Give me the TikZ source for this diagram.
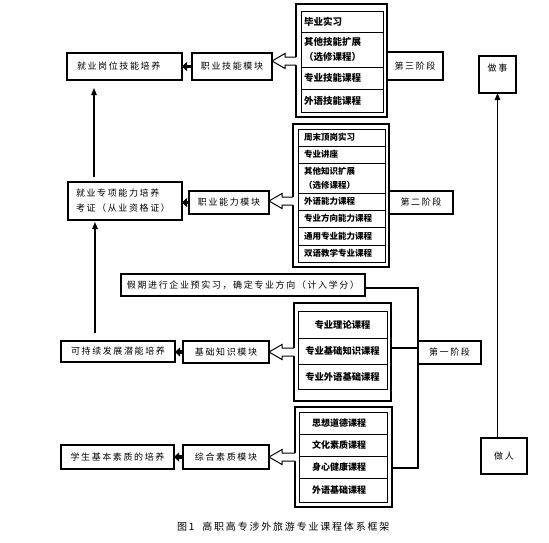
\documentclass[tikz,border=0pt]{standalone}
\usepackage{fontspec}
\setmainfont{Noto Sans CJK SC}
\newfontfamily\cjkw[LetterSpace=18]{Noto Sans CJK SC}
\usetikzlibrary{arrows.meta,calc}
\newcommand\bx[7]{%
  \pgfmathsetmacro\bw{#4-#2}\pgfmathsetmacro\bh{#5-#3}%
  \node[#6, anchor=north west, minimum width=\bw pt, minimum height=\bh pt] (#1) at (#2,#3) {#7};}
\newcommand\bxl[8]{%
  \pgfmathsetmacro\bw{#4-#2}\pgfmathsetmacro\bh{#5-#3}\pgfmathsetmacro\tw{#4-#2-2*#7}%
  \node[#6, anchor=north west, minimum width=\bw pt, minimum height=\bh pt, text width=\tw pt, align=left] (#1) at (#2,#3) {#8};}
\newcommand\hollow[2]{%
  \fill[white] (#1) -- ++(13,-7.5) -- ++(0,3.5) -- ($(#1 -| #2.west)+(1.2,-4)$) -- ($(#1 -| #2.west)+(1.2,4)$) -- ($(#1)+(13,4)$) -- ++(0,3.5) -- cycle;
  \draw[hol] ($(#1 -| #2.west)+(0,-4)$) -- ($(#1)+(13,-4)$) -- ++(0,-3.5) -- (#1) -- ++(13,7.5) -- ++(0,-3.5) -- ($(#1 -| #2.west)+(0,4)$);}
\begin{document}
\begin{tikzpicture}[x=1pt,y=-1pt,
  every node/.style={inner sep=0pt, outer sep=0pt},
  box/.style={draw, line width=1.1pt, font=\cjkw\fontsize{9}{15}\selectfont},
  gbox/.style={draw, line width=1.1pt},
  rowA/.style={draw, line width=1pt, font=\bfseries\fontsize{9.5}{15}\selectfont},
  rowB/.style={draw, line width=1pt, font=\bfseries\fontsize{8.5}{14}\selectfont},
  rowC/.style={draw, line width=1pt, font=\bfseries\fontsize{9.3}{12}\selectfont},
  rowD/.style={draw, line width=1pt, font=\bfseries\fontsize{9}{12}\selectfont},
  fat/.style={line width=3.5pt, -{Triangle[length=5pt,width=9pt]}},
  thin/.style={line width=1.1pt, -{Triangle[length=7pt,width=5.5pt]}},
  conn/.style={line width=1.1pt},
  hol/.style={line width=1pt, line join=miter}]
\fill[white] (0,0) rectangle (549,542);
\useasboundingbox (0,0) rectangle (549,542);

% outcome boxes
\bxl{L1}{67}{53}{182}{80}{box}{10}{就业岗位技能培养}
\bxl{L2}{68}{182}{182}{220}{box}{8}{就业专项能力培养\\考证（从业资格证）}
\bx{L3}{61}{341}{175}{362}{box}{可持续发展潜能培养}
\bx{L4}{61}{445}{174}{469}{box}{学生基本素质的培养}

% modules
\bx{M1}{192}{53}{272}{80}{box}{职业技能模块}
\bx{M2}{189}{191}{269}{214}{box}{职业能力模块}
\bx{M3}{183}{341}{269}{363}{box}{基础知识模块}
\bx{M4}{183}{445}{269}{469}{box}{综合素质模块}

\draw[fat] (M1.west) -- (L1.east);
\draw[fat] (M2.west) -- (M2.west -| L2.east);
\draw[fat] (M3.west) -- (M3.west -| L3.east);
\draw[fat] (M4.west) -- (L4.east);

% group 1
\bx{G1}{296}{4}{387}{117}{gbox}{}
\bxl{a1}{301}{11}{383}{32}{rowA}{3}{毕业实习}
\bxl{a2}{301}{32}{383}{67}{rowA}{3}{其他技能扩展\\（选修课程）}
\bxl{a3}{301}{67}{383}{89}{rowA}{3}{专业技能课程}
\bxl{a4}{301}{89}{383}{112}{rowA}{3}{外语技能课程}

% group 2
\bx{G2}{293}{124}{389}{267}{gbox}{}
\bxl{b1}{298}{129}{385}{146}{rowB}{6}{周末顶岗实习}
\bxl{b2}{298}{146}{385}{163}{rowB}{6}{专业讲座}
\bxl{b3}{298}{163}{385}{193}{rowB}{6}{其他知识扩展\\（选修课程）}
\bxl{b4}{298}{193}{385}{210}{rowB}{6}{外语能力课程}
\bxl{b5}{298}{210}{385}{227}{rowB}{6}{专业方向能力课程}
\bxl{b6}{298}{227}{385}{245}{rowB}{6}{通用专业能力课程}
\bxl{b7}{298}{245}{385}{262}{rowB}{6}{双语教学专业课程}

% group 3
\bx{G3}{294}{303}{391}{401}{gbox}{}
\bx{c1}{298}{311}{387}{338}{rowC}{专业理论课程}
\bx{c2}{298}{338}{387}{364}{rowC}{专业基础知识课程}
\bx{c3}{298}{364}{387}{389}{rowC}{专业外语基础课程}

% group 4
\bx{G4}{295}{407}{392}{507}{gbox}{}
\bxl{d1}{299}{412}{387}{434}{rowD}{13}{思想道德课程}
\bxl{d2}{299}{434}{387}{456}{rowD}{13}{文化素质课程}
\bxl{d3}{299}{456}{387}{478}{rowD}{13}{身心健康课程}
\bxl{d4}{299}{478}{387}{502}{rowD}{13}{外语基础课程}

% hollow arrows
\coordinate (t1) at ($(M1.east)+(0,-5.5)$);
\coordinate (t2) at ($(M2.east)+(0,-1.5)$);
\coordinate (t3) at (M3.east);
\coordinate (t4) at (M4.east);
\hollow{t1}{G1}
\hollow{t2}{G2}
\hollow{t3}{G3}
\hollow{t4}{G4}

% stages
\bx{S3}{387}{52}{443}{80}{box}{第三阶段}
\bx{S2}{389}{191}{453}{214}{box}{第二阶段}
\bx{P}{121}{274}{365}{296}{box}{假期进行企业预实习，确定专业方向（计入学分）}
\coordinate (bt) at (418,288);
\coordinate (bm) at (418,348);
\coordinate (bb) at (418,468);
\draw[conn] (P.east |- bt) -- (bt) -- (bb) -- (G4.east |- bb);
\draw[conn] (G3.east |- bm) -- (bm);
\bx{S1}{418}{341}{481}{364}{box}{第一阶段}

% left vertical arrows
\coordinate (vx) at (94,0);
\coordinate (vy) at (95,0);
\draw[thin, shorten <=5pt, shorten >=8pt] (L2.north -| vx) -- (L1.south -| vx);
\draw[thin, shorten <=8pt, shorten >=2pt] (L3.north -| vy) -- (L2.south -| vy);

% right side
\bx{DS}{479}{56}{516}{93}{box}{}
\node[font=\cjkw\fontsize{9}{12}\selectfont] (DSt) at (497.5,68) {做事};
\bx{DR}{481}{438}{527}{474}{box}{做人}
\draw[thin] (DS.south |- DR.north) -- (DS.south);

% caption
\node[anchor=west, font=\cjkw\fontsize{10}{12}\selectfont] (cap) at (177,527) {图1\hspace{8pt}高职高专涉外旅游专业课程体系框架};
\end{tikzpicture}
\end{document}
